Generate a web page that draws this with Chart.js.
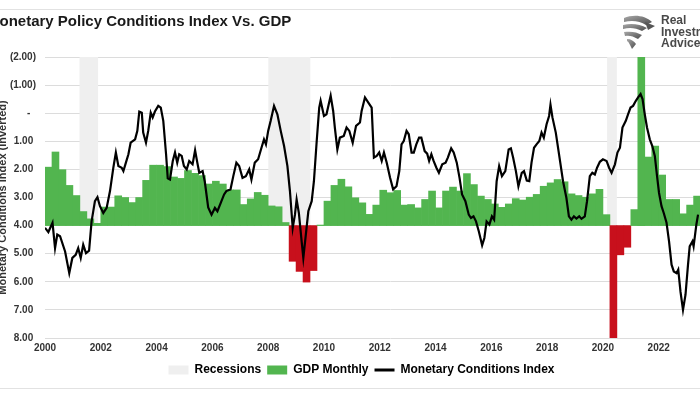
<!DOCTYPE html>
<html>
<head>
<meta charset="utf-8">
<script src="https://cdn.jsdelivr.net/npm/chart.js@4.4.0/dist/chart.umd.min.js"></script>
<style>
  html, body { margin: 0; padding: 0; background: #fff; overflow: hidden; }
  #wrap { position: relative; width: 700px; height: 394px; overflow: hidden; }
  #chart { position: absolute; left: -13px; top: 0; }
  .rule { position: absolute; left: 0; width: 700px; height: 1px; background: #e2e2e2; }
  #logo { position: absolute; left: 621px; top: 14px; }
  #logoText { position: absolute; left: 661px; top: 15px; font: bold 12px "Liberation Sans", Arial, sans-serif;
              line-height: 11.5px; color: #4a4a4a; white-space: nowrap; }
</style>
</head>
<body>
<div id="wrap">
  <div class="rule" style="top:9px"></div>
  <div class="rule" style="top:388px"></div>
  <canvas id="chart" width="749" height="394"></canvas>
  <svg id="logo" width="34" height="36" viewBox="0 0 34 36">
    <defs>
      <linearGradient id="g" x1="0" y1="0" x2="1" y2="1">
        <stop offset="0" stop-color="#a8a8a8"/>
        <stop offset="1" stop-color="#4d4d4d"/>
      </linearGradient>
    </defs>
    <path d="M3 4 C12 0 24 1 31 8 L25 11 C19 7 11 6 3 8 Z" fill="url(#g)"/>
    <path d="M2 11 C10 9 19 10 26 14 L21 17 C15 14 9 13 2 15 Z" fill="url(#g)"/>
    <path d="M3 18 C10 17 16 18 21 21 L17 25 C12 22 8 21 4 22 Z" fill="url(#g)"/>
    <path d="M6 25 C10 25 13 27 15 30 L11 35 C9 31 8 28 6 27 Z" fill="url(#g)"/>
    <path d="M24 8 L34 12 L27 16 Z" fill="#555"/>
  </svg>
  <div id="logoText">Real<br>Investment<br>Advice</div>
</div>
<script>
// recession bands (decimal years)
const recessionStarts = [2001.23, 2008.0, 2020.15];
const recessionEnds = [2001.91, 2009.52, 2020.5];

// GDP, quarterly from 2000 Q1, read on the inverted index scale (4.00 = zero line)
const gdpStartYear = 2000;
const gdpBase = 4;
const gdpValues = [
  1.92, 1.38, 2.01, 2.57,
  2.93, 3.50, 3.76, 3.92,
  3.34, 3.34, 2.94, 3.00,
  3.18, 3.00, 2.39, 1.85,
  1.85, 1.90, 2.27, 2.32,
  2.04, 2.14, 2.22, 2.52,
  2.42, 2.52, 2.73, 2.73,
  3.25, 3.05, 2.82, 2.92,
  3.30, 3.33, 3.89, 5.27,
  5.63, 6.01, 5.60, 3.98,
  3.13, 2.57, 2.35, 2.62,
  3.01, 3.19, 3.60, 3.27,
  2.74, 2.83, 2.75, 3.27,
  3.25, 3.37, 3.07, 2.77,
  3.37, 2.77, 2.63, 2.77,
  2.15, 2.54, 2.95, 3.07,
  3.23, 3.35, 3.23, 3.04,
  3.09, 2.99, 2.89, 2.60,
  2.48, 2.36, 2.44, 2.87,
  2.93, 2.99, 2.87, 2.71,
  3.61, 8.00, 5.04, 4.77,
  3.43, -2.00, 1.56, 1.17,
  2.20, 3.07, 3.07, 3.58,
  3.27, 2.95
];

// Monetary Conditions Index
const mciDates = [
  2000.00, 2000.12, 2000.27, 2000.36, 2000.44, 2000.54, 2000.72, 2000.87, 2000.98, 2001.10,
  2001.19, 2001.28, 2001.37, 2001.47, 2001.58, 2001.67, 2001.79, 2001.88, 2001.97, 2002.09,
  2002.21, 2002.33, 2002.45, 2002.54, 2002.63, 2002.75, 2002.81, 2002.90, 2002.99, 2003.07,
  2003.23, 2003.31, 2003.38, 2003.47, 2003.52, 2003.62, 2003.70, 2003.79, 2003.86, 2003.94,
  2004.06, 2004.15, 2004.24, 2004.34, 2004.40, 2004.48, 2004.58, 2004.66, 2004.74, 2004.81,
  2004.90, 2004.98, 2005.08, 2005.17, 2005.29, 2005.38, 2005.46, 2005.53, 2005.65, 2005.73,
  2005.85, 2005.97, 2006.09, 2006.18, 2006.30, 2006.42, 2006.50, 2006.65, 2006.75, 2006.86,
  2006.96, 2007.08, 2007.20, 2007.32, 2007.40, 2007.52, 2007.64, 2007.76, 2007.85, 2007.92,
  2008.00, 2008.09, 2008.21, 2008.33, 2008.45, 2008.57, 2008.69, 2008.78, 2008.88, 2008.96,
  2009.02, 2009.10, 2009.20, 2009.26, 2009.35, 2009.44, 2009.56, 2009.64, 2009.74, 2009.83,
  2009.88, 2010.00, 2010.09, 2010.24, 2010.33, 2010.39, 2010.48, 2010.57, 2010.71, 2010.81,
  2010.91, 2011.03, 2011.15, 2011.29, 2011.35, 2011.47, 2011.59, 2011.71, 2011.79, 2011.89,
  2011.98, 2012.07, 2012.15, 2012.25, 2012.37, 2012.48, 2012.60, 2012.70, 2012.78, 2012.86,
  2012.96, 2013.04, 2013.14, 2013.22, 2013.31, 2013.41, 2013.49, 2013.61, 2013.70, 2013.77,
  2013.85, 2013.93, 2014.03, 2014.12, 2014.24, 2014.36, 2014.44, 2014.56, 2014.65, 2014.76,
  2014.86, 2014.95, 2015.07, 2015.19, 2015.27, 2015.36, 2015.45, 2015.55, 2015.67, 2015.75,
  2015.83, 2015.93, 2016.02, 2016.10, 2016.19, 2016.28, 2016.38, 2016.50, 2016.62, 2016.70,
  2016.78, 2016.88, 2016.97, 2017.09, 2017.17, 2017.27, 2017.36, 2017.44, 2017.53, 2017.62,
  2017.72, 2017.80, 2017.88, 2017.98, 2018.07, 2018.12, 2018.19, 2018.31, 2018.40, 2018.48,
  2018.57, 2018.69, 2018.78, 2018.87, 2018.96, 2019.05, 2019.15, 2019.23, 2019.35, 2019.43,
  2019.53, 2019.62, 2019.71, 2019.79, 2019.89, 2020.00, 2020.13, 2020.22, 2020.31, 2020.43,
  2020.52, 2020.61, 2020.70, 2020.82, 2020.90, 2020.99, 2021.08, 2021.18, 2021.26, 2021.35,
  2021.42, 2021.50, 2021.58, 2021.68, 2021.77, 2021.86, 2021.94, 2022.01, 2022.10, 2022.18,
  2022.28, 2022.37, 2022.46, 2022.54, 2022.64, 2022.70, 2022.78, 2022.87, 2022.96, 2023.05,
  2023.11, 2023.21, 2023.25, 2023.35, 2023.41
];
const mciValues = [
  4.08, 4.23, 3.90, 4.80, 4.32, 4.38, 4.92, 5.69, 5.15, 5.04,
  4.80, 5.15, 4.68, 4.98, 4.89, 3.85, 3.13, 2.99, 3.31, 3.55,
  3.37, 2.77, 1.94, 1.40, 1.88, 1.94, 2.06, 1.76, 1.46, 1.05,
  0.93, 0.63, -0.06, -0.02, 0.69, 1.05, 0.63, -0.02, 0.15, -0.06,
  -0.26, -0.20, 0.27, 1.46, 2.32, 2.36, 1.70, 1.40, 1.76, 1.46,
  1.52, 1.88, 2.00, 1.70, 1.82, 1.32, 1.76, 2.12, 2.06, 2.45,
  3.35, 3.61, 3.37, 3.49, 3.19, 2.89, 2.77, 2.71, 2.24, 1.76,
  1.88, 2.30, 2.24, 2.00, 2.36, 1.76, 1.64, 1.23, 0.93, 1.11,
  0.63, 0.27, -0.26, 0.04, 0.63, 1.17, 1.88, 2.77, 4.08, 3.61,
  3.07, 3.55, 4.56, 5.15, 4.32, 3.49, 3.13, 2.42, 0.99, -0.20,
  -0.44, 0.10, 0.04, -0.62, -0.08, 0.51, 1.29, 0.87, 0.81, 0.51,
  0.63, 1.05, 0.45, 0.33, -0.08, -0.56, -0.38, -0.20, 1.58, 1.52,
  1.40, 1.70, 1.40, 1.76, 2.30, 2.71, 2.60, 2.06, 1.11, 0.99,
  0.63, 0.75, 1.40, 1.40, 1.11, 0.87, 0.87, 1.35, 1.44, 1.70,
  1.46, 1.70, 1.94, 2.12, 1.82, 1.76, 1.58, 1.25, 1.40, 1.76,
  2.30, 2.89, 3.13, 3.61, 3.73, 3.67, 3.85, 4.20, 4.70, 4.44,
  3.85, 3.96, 3.67, 3.79, 2.42, 1.88, 2.24, 2.06, 1.29, 1.25,
  1.58, 2.06, 2.60, 2.12, 2.06, 2.40, 2.42, 1.76, 1.23, 1.11,
  0.99, 0.69, 0.87, 0.39, 0.10, -0.30, 0.15, 0.69, 1.29, 1.82,
  2.42, 3.01, 3.67, 3.79, 3.67, 3.75, 3.67, 3.76, 3.67, 3.13,
  2.24, 2.12, 2.18, 1.94, 1.73, 1.64, 1.70, 1.94, 2.12, 1.82,
  1.40, 1.23, 0.51, 0.27, 0.04, -0.20, -0.26, -0.44, -0.56, -0.68,
  -0.50, 0.04, 0.51, 0.93, 1.17, 1.52, 2.24, 2.83, 3.31, 3.55,
  3.90, 4.56, 5.39, 5.63, 5.69, 5.57, 6.35, 7.00, 6.46, 5.39,
  4.74, 4.56, 4.74, 3.96, 3.61
];

const legendNames = ['Recessions', 'GDP Monthly', 'Monetary Conditions Index'];

const font = '"Liberation Sans", Arial, sans-serif';
const green = '#52b54f';
const red = '#c8101c';
const grey = '#efefef';
const yMin = -2, yMax = 8;

function yLabel(v) {
    if (v < 0) return '(' + Math.abs(v).toFixed(2) + ')';
    if (v === 0) return '-  ';
    return v.toFixed(2) + ' ';
}

var recessionSets = recessionStarts.map(function (s, i) {
    return {
        type: 'line',
        data: [{ x: s, y: yMin }, { x: recessionEnds[i], y: yMin }],
        borderColor: 'rgba(0,0,0,0)',
        borderWidth: 0,
        pointRadius: 0,
        backgroundColor: grey,
        fill: { value: gdpBase },
        order: 3
    };
});

var ctx = document.getElementById('chart').getContext('2d');
var chart = new Chart(ctx, {
    type: 'bar',
    data: {
        datasets: [{
            type: 'line',
            data: mciDates.map(function (t, i) { return { x: t, y: mciValues[i] }; }),
            borderColor: '#000',
            borderWidth: 2.2,
            pointRadius: 0,
            tension: 0,
            fill: false,
            order: 1
        }, {
            type: 'bar',
            data: gdpValues.map(function (v, i) { return { x: gdpStartYear + i * 0.25 + 0.125, y: [gdpBase, v] }; }),
            backgroundColor: gdpValues.map(function (v) { return v > gdpBase ? red : green; }),
            borderWidth: 0,
            barPercentage: 1,
            categoryPercentage: 1,
            grouped: false,
            order: 2
        }].concat(recessionSets)
    },
    options: {
        responsive: false,
        devicePixelRatio: 1,
        animation: false,
        events: [],
        layout: { padding: { left: 0, right: 0, top: 0, bottom: 8 } },
        scales: {
            x: {
                type: 'linear',
                min: 2000,
                max: 2024.77,
                offset: false,
                grid: { display: false, drawTicks: false },
                border: { display: false },
                ticks: {
                    stepSize: 2,
                    includeBounds: false,
                    autoSkip: false,
                    maxRotation: 0,
                    padding: 4,
                    color: '#333',
                    font: { family: font, size: 10, weight: 'bold' },
                    callback: function (v) { return String(v); }
                }
            },
            y: {
                type: 'linear',
                reverse: true,
                min: yMin,
                max: yMax,
                grid: { color: '#dcdcdc', drawTicks: false },
                border: { display: false },
                ticks: {
                    stepSize: 1,
                    padding: 9,
                    color: '#333',
                    font: { family: font, size: 10, weight: 'bold' },
                    callback: yLabel
                },
                title: {
                    display: true,
                    text: 'Monetary Conditions Index (Inverted)',
                    color: '#333',
                    font: { family: font, size: 11, weight: 'bold' },
                    padding: { top: 9, bottom: 0 }
                },
                afterFit: function (s) { s.width = 58; }
            }
        },
        plugins: {
            tooltip: { enabled: false },
            title: {
                display: true,
                text: 'Monetary Policy Conditions Index Vs. GDP',
                align: 'start',
                color: '#1a1a1a',
                font: { family: font, size: 15, weight: 'bold' },
                padding: { top: 13, bottom: 26 }
            },
            legend: {
                position: 'bottom',
                labels: {
                    usePointStyle: true,
                    pointStyleWidth: 20,
                    boxHeight: 9,
                    padding: 6,
                    color: '#222',
                    font: { family: font, size: 12, weight: 'bold' },
                    generateLabels: function () {
                        var colors = [grey, green, '#000'];
                        return legendNames.map(function (name, i) {
                            return {
                                text: name,
                                fillStyle: colors[i],
                                strokeStyle: colors[i],
                                lineWidth: i === 2 ? 3 : 0,
                                pointStyle: i === 2 ? 'line' : 'rect',
                                hidden: false,
                                datasetIndex: i
                            };
                        });
                    }
                }
            }
        }
    }
});
</script>
</body>
</html>
